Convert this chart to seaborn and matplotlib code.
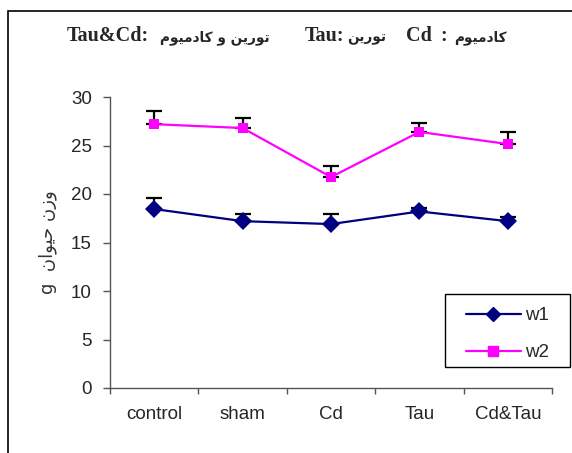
import matplotlib
matplotlib.use("Agg")
import matplotlib.pyplot as plt
import seaborn as sns
import pandas as pd
import numpy as np
from matplotlib.patches import Rectangle
from matplotlib.lines import Line2D

categories = ["control", "sham", "Cd", "Tau", "Cd&Tau"]
w1 = [18.45, 17.2, 16.9, 18.2, 17.2]
w1_err = [1.15, 0.7, 1.05, 0.4, 0.4]
w2 = [27.2, 26.8, 21.75, 26.4, 25.15]
w2_err = [1.35, 1.0, 1.15, 0.9, 1.25]
series_names = ["w1", "w2"]
y_ticks = [0, 5, 10, 15, 20, 25, 30]

# Persian text in presentation forms, visual (left-to-right) order
taurine = "\uFEE6\uFBFE\uFEAD\uFEEE\uFE97"              # تورین
cadmium = "\uFEE1\uFEEE\uFBFF\uFEE3\uFEA9\uFE8E\uFB90"  # کادمیوم
waw = "\uFEED"                                         # و
vazn = "\uFEE5\uFEAF\uFEED"                            # وزن
heyvan = "\uFEE5\uFE8D\uFEEE\uFBFF\uFEA3"              # حیوان

ylabel_text = "g  " + heyvan + " " + vazn

sns.set_style("white")
plt.rcParams["font.family"] = ["Liberation Sans", "DejaVu Sans"]

df = pd.DataFrame({
    "cat": categories * 2,
    "val": w1 + w2,
    "series": [series_names[0]] * 5 + [series_names[1]] * 5,
})

W, H = 572, 453
fig = plt.figure(figsize=(W / 100, H / 100), dpi=100)
ax = fig.add_axes([110 / W, 65 / H, 442 / W, 291 / H])

# outer chart border
fig.patches.append(Rectangle((8 / W, -0.1), 1.2, 1 - 11 / H + 0.1,
                             transform=fig.transFigure, fill=False,
                             edgecolor="black", linewidth=1.2, zorder=0))

x = np.arange(len(categories))
ax.errorbar(x, w1, yerr=[np.zeros(5), w1_err], fmt="none", ecolor="black",
            elinewidth=1.6, capsize=5.5, capthick=1.6, zorder=1)
ax.errorbar(x, w2, yerr=[np.zeros(5), w2_err], fmt="none", ecolor="black",
            elinewidth=1.6, capsize=5.5, capthick=1.6, zorder=1)

palette = {"w1": "#000080", "w2": "#FF00FF"}
sns.lineplot(data=df, x="cat", y="val", hue="series", style="series",
             palette=palette, markers={"w1": "D", "w2": "s"}, dashes=False,
             sort=False, linewidth=1.6, ax=ax, legend=False, zorder=3,
             markeredgewidth=0)
for ln in ax.lines:
    if ln.get_marker() == "D":
        ln.set_markersize(9.5)
    elif ln.get_marker() == "s":
        ln.set_markersize(7.2)

ax.set_xlim(-0.5, 4.5)
ax.set_ylim(0, 30)
ax.set_yticks(y_ticks)
ax.set_xticks(x)
ax.set_xticklabels(categories, fontsize=13.5)
ax.set_xticks(np.arange(-0.5, 5, 1), minor=True)
ax.tick_params(axis="x", which="major", length=0, pad=13)
ax.tick_params(axis="x", which="minor", length=4.5, width=1, color="#555555",
               direction="out", bottom=True)
ax.tick_params(axis="y", length=5, width=1, color="#555555", direction="out",
               left=True, labelsize=13.5, pad=8)
ax.set_xlabel("")
ax.set_ylabel(ylabel_text, fontsize=13, color="#333333",
              family=["DejaVu Sans"])
ax.yaxis.set_label_coords(-0.12, 0.5)
for s in ["top", "right"]:
    ax.spines[s].set_visible(False)
for s in ["left", "bottom"]:
    ax.spines[s].set_color("#555555")
    ax.spines[s].set_linewidth(1)

# title, drawn in pieces (Latin in bold serif, Persian in DejaVu Sans Bold)
latin = ["Liberation Serif"]
arab = ["DejaVu Sans"]
title_pieces = [
    ("Tau&Cd:", latin, 14.5, 67, "left"),
    (cadmium + " " + waw + " " + taurine, arab, 9.8, 160, "left"),
    ("Tau:", latin, 14.5, 305, "left"),
    (taurine, arab, 9.8, 347, "left"),
    ("Cd", latin, 14.5, 406, "left"),
    (":", latin, 14.5, 440, "left"),
    (cadmium, arab, 9.8, 507, "right"),
]
for txt, fam, size, xl, ha in title_pieces:
    fig.text(xl / W, 1 - 41 / H, txt, ha=ha, va="baseline",
             fontsize=size, fontweight="bold", family=fam)

# legend
handles = [
    Line2D([], [], color="#000080", marker="D", markersize=7, lw=1.6),
    Line2D([], [], color="#FF00FF", marker="s", markersize=6.5, lw=1.6),
]
leg = ax.legend(handles, series_names, loc="upper left",
                bbox_to_anchor=(466 / W, 1 - 307 / H),
                bbox_transform=fig.transFigure, frameon=False,
                fontsize=13.5, handlelength=2.93, handletextpad=0.2,
                labelspacing=1.07, borderpad=0, borderaxespad=0)
leg.set_zorder(6)
ax.add_patch(Rectangle((445 / W, 1 - 367 / H), 125 / W, 73 / H,
                       transform=fig.transFigure, facecolor="white",
                       edgecolor="black", linewidth=1, zorder=5,
                       clip_on=False))

fig.savefig("out.png", dpi=100)
